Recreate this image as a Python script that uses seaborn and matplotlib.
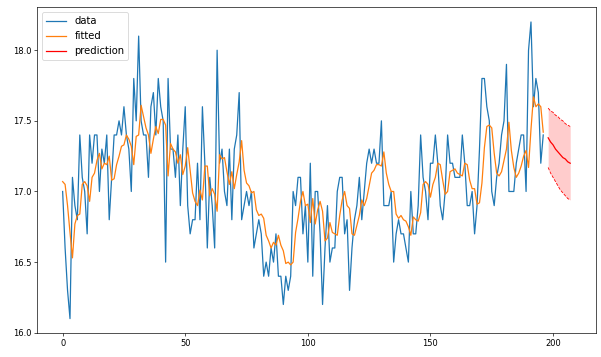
import matplotlib
matplotlib.use("Agg")
import matplotlib.pyplot as plt
import numpy as np
import seaborn as sns

# observed concentration readings
data = [
    17.0, 16.6, 16.3, 16.1, 17.1, 16.9, 16.8, 17.4, 17.1, 17.0,
    16.7, 17.4, 17.2, 17.4, 17.4, 17.0, 17.3, 17.2, 17.4, 16.8,
    17.1, 17.4, 17.4, 17.5, 17.4, 17.6, 17.4, 17.3, 17.0, 17.8,
    17.5, 18.1, 17.5, 17.4, 17.4, 17.1, 17.6, 17.7, 17.4, 17.8,
    17.6, 17.5, 16.5, 17.8, 17.3, 17.3, 17.1, 17.4, 16.9, 17.3,
    17.6, 16.9, 16.7, 16.8, 16.8, 17.2, 16.8, 17.6, 17.2, 16.6,
    17.1, 16.9, 16.6, 18.0, 17.2, 17.3, 17.0, 16.9, 17.3, 16.8,
    17.3, 17.4, 17.7, 16.8, 16.9, 17.0, 16.9, 17.0, 16.6, 16.7,
    16.8, 16.7, 16.4, 16.5, 16.4, 16.6, 16.5, 16.7, 16.4, 16.4,
    16.2, 16.4, 16.3, 16.4, 17.0, 16.9, 17.1, 17.1, 16.7, 16.9,
    16.5, 17.2, 16.4, 17.0, 17.0, 16.7, 16.2, 16.6, 16.9, 16.5,
    16.6, 16.6, 17.0, 17.1, 17.1, 16.7, 16.8, 16.3, 16.6, 16.8,
    16.9, 17.1, 16.8, 17.0, 17.2, 17.3, 17.2, 17.3, 17.2, 17.2,
    17.5, 16.9, 16.9, 16.9, 17.0, 16.5, 16.7, 16.8, 16.7, 16.7,
    16.6, 16.5, 17.0, 16.7, 16.7, 16.9, 17.4, 17.1, 17.0, 16.8,
    17.2, 17.2, 17.4, 17.2, 16.9, 16.8, 17.0, 17.4, 17.2, 17.2,
    17.1, 17.1, 17.1, 17.4, 17.2, 16.9, 16.9, 17.0, 16.7, 16.9,
    17.3, 17.8, 17.8, 17.6, 17.5, 17.0, 16.9, 17.1, 17.2, 17.4,
    17.5, 17.9, 17.0, 17.0, 17.0, 17.2, 17.3, 17.4, 17.4, 17.0,
    18.0, 18.2, 17.6, 17.8, 17.7, 17.2, 17.4,
]

# one-step fitted values
fitted = [
    17.07, 17.05, 16.90, 16.71, 16.53, 16.77, 16.83, 16.84, 17.05, 17.07,
    17.04, 16.93, 17.10, 17.13, 17.22, 17.27, 17.16, 17.20, 17.19, 17.25,
    17.08, 17.09, 17.19, 17.25, 17.32, 17.33, 17.40, 17.37, 17.32, 17.19,
    17.39, 17.40, 17.61, 17.53, 17.45, 17.40, 17.27, 17.37, 17.46, 17.41,
    17.51, 17.51, 17.47, 17.11, 17.34, 17.30, 17.28, 17.20, 17.26, 17.12,
    17.18, 17.31, 17.15, 16.99, 16.93, 16.90, 17.01, 16.94, 17.18, 17.18,
    16.97, 17.02, 16.98, 16.86, 17.26, 17.23, 17.24, 17.14, 17.05, 17.14,
    17.02, 17.12, 17.21, 17.36, 17.15, 17.06, 17.04, 16.99, 17.00, 16.87,
    16.83, 16.84, 16.81, 16.69, 16.65, 16.60, 16.64, 16.62, 16.69, 16.62,
    16.58, 16.49, 16.50, 16.48, 16.50, 16.71, 16.81, 16.93, 17.00, 16.90,
    16.91, 16.78, 16.95, 16.77, 16.87, 16.93, 16.86, 16.65, 16.67, 16.78,
    16.71, 16.70, 16.69, 16.83, 16.94, 17.00, 16.90, 16.88, 16.70, 16.69,
    16.76, 16.83, 16.94, 16.90, 16.95, 17.04, 17.13, 17.15, 17.19, 17.19,
    17.18, 17.28, 17.13, 17.05, 17.00, 17.00, 16.84, 16.81, 16.83, 16.80,
    16.79, 16.75, 16.69, 16.82, 16.80, 16.79, 16.85, 17.05, 17.07, 17.05,
    16.96, 17.05, 17.10, 17.20, 17.19, 17.08, 16.98, 17.00, 17.14, 17.15,
    17.16, 17.13, 17.12, 17.11, 17.20, 17.19, 17.08, 17.02, 17.02, 16.91,
    16.92, 17.06, 17.31, 17.46, 17.47, 17.45, 17.27, 17.13, 17.11, 17.14,
    17.22, 17.30, 17.49, 17.29, 17.17, 17.10, 17.13, 17.18, 17.25, 17.29,
    17.17, 17.44, 17.67, 17.60, 17.62, 17.60, 17.42,
]

# out-of-sample forecast and its interval
pred_index = [198, 199, 200, 201, 202, 203, 204, 205, 206, 207]
prediction = [17.38, 17.35, 17.33, 17.30, 17.28, 17.26, 17.24, 17.23, 17.21, 17.20]
pred_upper = [17.59, 17.57, 17.56, 17.54, 17.53, 17.51, 17.50, 17.48, 17.47, 17.46]
pred_lower = [17.17, 17.13, 17.10, 17.07, 17.04, 17.01, 16.99, 16.97, 16.95, 16.94]

idx = np.arange(len(data))

fig = plt.figure(figsize=(601 / 60, 357 / 60), dpi=60)
ax = fig.add_axes([0.062, 0.066, 0.929, 0.914])

sns.lineplot(x=idx, y=data, ax=ax, color="tab:blue", label="data")
sns.lineplot(x=idx, y=fitted, ax=ax, color="tab:orange", label="fitted")
sns.lineplot(x=pred_index, y=prediction, ax=ax, color="red", label="prediction")
sns.lineplot(x=pred_index, y=pred_upper, ax=ax, color="red", linestyle="--", linewidth=1)
sns.lineplot(x=pred_index, y=pred_lower, ax=ax, color="red", linestyle="--", linewidth=1)
ax.fill_between(pred_index, pred_lower, pred_upper, color="red", alpha=0.2, linewidth=0)

ax.set_xticks([0, 50, 100, 150, 200])
ax.legend(loc="upper left", fontsize=12)

fig.savefig("out.png", dpi=60)
